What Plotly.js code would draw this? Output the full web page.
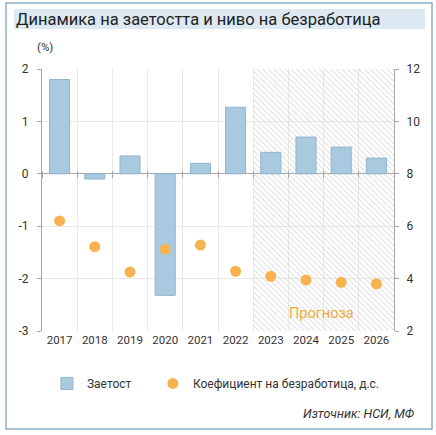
<!DOCTYPE html>
<html>
<head>
<meta charset="utf-8">
<script src="https://cdn.plot.ly/plotly-3.0.1.min.js"></script>
<style>
  html, body { margin: 0; padding: 0; background: #fff; }
  #chart { width: 436px; height: 435px; }
</style>
</head>
<body>
<div id="chart"></div>
<script>
// 年份
const years = ["2017", "2018", "2019", "2020", "2021", "2022", "2023", "2024", "2025", "2026"];
// 預測年份（斜線底紋區）
const forecastYears = ["2023", "2024", "2025", "2026"];
// 就業變化 (%)
const employment = [1.8, -0.1, 0.34, -2.32, 0.2, 1.27, 0.41, 0.7, 0.51, 0.3];
// 失業率 (右軸)
const unemployment = [6.2, 5.22, 4.25, 5.12, 5.28, 4.28, 4.09, 3.95, 3.86, 3.8];
// 軸範圍與刻度
const leftRange = [-3, 2];
const rightRange = [2, 12];
const leftTicks = [-3, -2, -1, 0, 1, 2];
const leftTickText = ["-3", "-2", "-1", "0", "1", "2"];

const FONT = "Roboto, 'Noto Sans', sans-serif";
const TXT = "#333";
const AXIS = "#a6a6a6";
const GRID = "#e9e9e9";

// 底紋：覆蓋預測區的整欄
const hatch = {
  type: "bar",
  x: forecastYears,
  y: forecastYears.map(() => leftRange[1] - leftRange[0]),
  base: forecastYears.map(() => leftRange[0]),
  width: 1,
  marker: {
    color: "rgba(255,255,255,0)",
    line: { width: 0 },
    pattern: { shape: "\\", fgcolor: "#cdcdcd", bgcolor: "rgba(255,255,255,0)", size: 4, solidity: 0.22 },
  },
  hoverinfo: "skip",
  showlegend: false,
};

const empTrace = {
  type: "bar",
  name: "Заетост",
  x: years,
  y: employment,
  width: 0.57,
  marker: { color: "#a9c9de", line: { color: "#8fb4cd", width: 1 } },
  legend: "legend",
};

const unempTrace = {
  type: "scatter",
  mode: "markers",
  name: "Коефициент на безработица, д.с.",
  x: years,
  y: unemployment,
  xaxis: "x2",
  yaxis: "y2",
  marker: { color: "#f8b24e", size: 11 },
  legend: "legend2",
};

const legendBase = {
  orientation: "h",
  xanchor: "left",
  y: -0.2, yanchor: "middle",
  font: { size: 12, color: TXT },
  itemwidth: 30,
  bgcolor: "rgba(0,0,0,0)",
};

const layout = {
  width: 436,
  height: 435,
  margin: { l: 42, r: 42, t: 69, b: 104 },
  paper_bgcolor: "#fff",
  plot_bgcolor: "#fff",
  font: { family: FONT, size: 11, color: TXT },
  barmode: "overlay",
  title: {
    text: "Динамика на заетостта и ниво на безработица",
    font: { family: FONT, size: 16.5, color: "#222" },
    x: 16 / 436, xanchor: "left",
    y: 1 - 19 / 435, yanchor: "middle",
  },
  xaxis: {
    type: "category",
    categoryarray: years,
    range: [-0.5, years.length - 0.5],
    tickson: "boundaries",
    showgrid: true,
    gridcolor: GRID,
    ticks: "",
    showline: false,
    zeroline: false,
    tickfont: { size: 11.5, color: TXT },
  },
  // 只用來在 0 線上畫穿過的小刻度
  xaxis2: {
    type: "category",
    categoryarray: years,
    range: [-0.5, years.length - 0.5],
    overlaying: "x",
    anchor: "free",
    position: 0.6 + 3.5 / 262,
    tickson: "boundaries",
    ticks: "outside",
    ticklen: 7,
    tickcolor: AXIS,
    showticklabels: false,
    showgrid: false,
    showline: false,
    zeroline: false,
  },
  yaxis: {
    range: leftRange,
    tickvals: leftTicks,
    ticktext: leftTickText,
    showgrid: true,
    gridcolor: GRID,
    zeroline: true,
    zerolinecolor: AXIS,
    zerolinewidth: 1.2,
    showline: true,
    linecolor: AXIS,
    ticks: "outside",
    ticklen: 4,
    tickcolor: AXIS,
    tickfont: { size: 12, color: TXT },
    ticklabelstandoff: 6,
  },
  yaxis2: {
    range: rightRange,
    dtick: 2,
    overlaying: "y",
    side: "right",
    showgrid: false,
    zeroline: false,
    showline: true,
    linecolor: AXIS,
    ticks: "outside",
    ticklen: 4,
    tickcolor: AXIS,
    tickfont: { size: 12, color: TXT },
    ticklabelstandoff: 5,
  },
  legend: { ...legendBase, x: 0.014 },
  legend2: { ...legendBase, x: 0.315 },
  annotations: [
    { text: "(%)", xref: "paper", yref: "paper", x: -0.02, y: 1.084, xanchor: "left", yanchor: "middle",
      showarrow: false, font: { size: 11.5, color: TXT } },
    { text: "Прогноза", xref: "paper", yref: "paper", x: 0.795, y: 0.065, xanchor: "center", yanchor: "middle",
      showarrow: false, font: { size: 14.5, color: "#f2a93b" } },
    { text: "<i>Източник: НСИ, МФ</i>", xref: "paper", yref: "paper", x: 1.065, y: -0.313, xanchor: "right", yanchor: "middle",
      showarrow: false, font: { size: 12.5, color: TXT } },
  ],
  shapes: [
    // 外框
    { type: "rect", xref: "paper", yref: "paper", x0: -0.1023, x1: 1.108, y0: -0.374, y1: 1.252,
      line: { color: "#8cb0c8", width: 1.5 }, fillcolor: "rgba(0,0,0,0)", layer: "below" },
    // 標題底色
    { type: "rect", xref: "paper", yref: "paper", x0: -0.0795, x1: 1.088, y0: 1.1527, y1: 1.229,
      line: { width: 0 }, fillcolor: "#dce9f2", layer: "below" },
  ],
};

Plotly.newPlot("chart", [hatch, empTrace, unempTrace], layout, { displayModeBar: false, staticPlot: true });
</script>
</body>
</html>
